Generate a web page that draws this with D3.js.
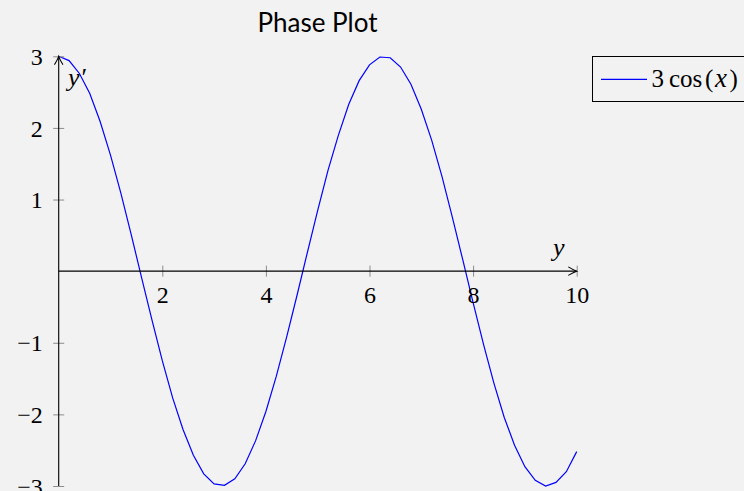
<!DOCTYPE html>
<html>
<head>
<meta charset="utf-8">
<script src="https://cdn.jsdelivr.net/npm/d3@7"></script>
<style>
  html, body { margin: 0; padding: 0; background: #f2f2f2; }
  svg { display: block; }
  .num { font-family: "Liberation Serif", "DejaVu Serif", serif; font-size: 24px; fill: #000; }
  .it { font-style: italic; }
</style>
</head>
<body>
<svg id="chart" width="744" height="491"></svg>
<script>
// Sampled curve y' = 3 cos(y), y in [0, 10]
const sampleX = [0, 0.2, 0.4, 0.6, 0.8, 1.0, 1.2, 1.4, 1.6, 1.8,
  2.0, 2.2, 2.4, 2.6, 2.8, 3.0, 3.2, 3.4, 3.6, 3.8,
  4.0, 4.2, 4.4, 4.6, 4.8, 5.0, 5.2, 5.4, 5.6, 5.8,
  6.0, 6.2, 6.4, 6.6, 6.8, 7.0, 7.2, 7.4, 7.6, 7.8,
  8.0, 8.2, 8.4, 8.6, 8.8, 9.0, 9.2, 9.4, 9.6, 9.8, 10.0];
const sampleY = [3.00, 2.94, 2.76, 2.48, 2.09, 1.62, 1.09, 0.51, -0.09, -0.68,
  -1.25, -1.77, -2.21, -2.57, -2.83, -2.97, -2.99, -2.90, -2.69, -2.37,
  -1.96, -1.47, -0.92, -0.34, 0.26, 0.85, 1.41, 1.90, 2.33, 2.66,
  2.88, 2.99, 2.98, 2.85, 2.61, 2.26, 1.83, 1.32, 0.75, 0.16,
  -0.44, -1.02, -1.56, -2.04, -2.43, -2.73, -2.92, -3.00, -2.95, -2.80, -2.52];
const xTicks = [2, 4, 6, 8, 10];
const yTicks = [-3, -2, -1, 1, 2, 3];
const titleText = "Phase Plot";

const svg = d3.select("#chart");
const x = d3.scaleLinear().domain([0, 10]).range([58.7, 576.7]);
const y = d3.scaleLinear().domain([-3, 3]).range([486, 56.3]);

const fmt = d => d < 0 ? "\u2212" + Math.abs(d) : String(d);

// Title
svg.append("text")
  .attr("x", 317.5).attr("y", 32)
  .attr("text-anchor", "middle")
  .style("font-family", "Lato, 'Liberation Sans', sans-serif")
  .style("font-size", "26px")
  .text(titleText);

// Curve
const line = d3.line().x(d => x(d[0])).y(d => y(d[1]));
svg.append("path")
  .datum(sampleX.map((v, i) => [v, sampleY[i]]))
  .attr("fill", "none")
  .attr("stroke", "#0000ff")
  .attr("stroke-width", 1.2)
  .attr("d", line);

// x axis through y = 0
const xAxis = svg.append("g")
  .attr("transform", `translate(0,${y(0)})`)
  .call(d3.axisBottom(x).tickValues(xTicks).tickSize(5).tickFormat(fmt));
xAxis.select(".domain").remove();
xAxis.selectAll(".tick line").attr("y1", -5.5).attr("y2", 5.5).attr("stroke", "#8c8c8c");
xAxis.selectAll(".tick text").attr("class", "num").attr("y", 32).attr("dy", null);
xAxis.attr("font-family", null).attr("font-size", null);

// y axis through x = 0
const yAxis = svg.append("g")
  .attr("transform", `translate(${x(0)},0)`)
  .call(d3.axisLeft(y).tickValues(yTicks).tickSize(5).tickFormat(fmt));
yAxis.select(".domain").remove();
yAxis.selectAll(".tick line").attr("x1", -5.5).attr("x2", 5.5).attr("stroke", "#8c8c8c");
yAxis.selectAll(".tick text").attr("class", "num").attr("x", -16).attr("dy", "0.34em");
yAxis.attr("font-family", null).attr("font-size", null);

// Axis lines with arrow tips
const ax = svg.append("g").attr("fill", "none").attr("stroke", "#000").attr("stroke-width", 1.1);
ax.append("line").attr("x1", x(0)).attr("x2", x(10)).attr("y1", y(0)).attr("y2", y(0));
ax.append("line").attr("x1", x(0)).attr("x2", x(0)).attr("y1", y(-3)).attr("y2", y(3));
const tx = x(10), ty = y(0);
ax.append("path").attr("stroke-linecap", "round")
  .attr("d", `M${tx - 8},${ty - 4} Q${tx - 3},${ty - 1} ${tx},${ty} Q${tx - 3},${ty + 1} ${tx - 8},${ty + 4}`);
const vx = x(0), vy = y(3);
ax.append("path").attr("stroke-linecap", "round")
  .attr("d", `M${vx - 4},${vy + 8} Q${vx - 1},${vy + 3} ${vx},${vy} Q${vx + 1},${vy + 3} ${vx + 4},${vy + 8}`);

// Axis labels
svg.append("text").attr("class", "num it").attr("x", 553).attr("y", 256)
  .style("font-size", "26px").text("y");
svg.append("text").attr("class", "num").attr("x", 68).attr("y", 86)
  .style("font-size", "26px")
  .html('<tspan class="it">y</tspan><tspan dx="2">\u2032</tspan>');

// Legend
const lg = svg.append("g");
lg.append("rect").attr("x", 592.5).attr("y", 56.5).attr("width", 170).attr("height", 45)
  .attr("fill", "#f2f2f2").attr("stroke", "#000").attr("stroke-width", 1);
lg.append("line").attr("x1", 601).attr("x2", 647).attr("y1", 79.3).attr("y2", 79.3)
  .attr("stroke", "#0000ff").attr("stroke-width", 1.2);
lg.append("text").attr("class", "num").attr("y", 86.5).style("font-size", "25px")
  .html('<tspan x="651.5">3</tspan><tspan x="669">cos</tspan><tspan x="705">(</tspan>' +
        '<tspan x="715" class="it" style="font-size:27px">x</tspan><tspan x="729.5">)</tspan>');
</script>
</body>
</html>
